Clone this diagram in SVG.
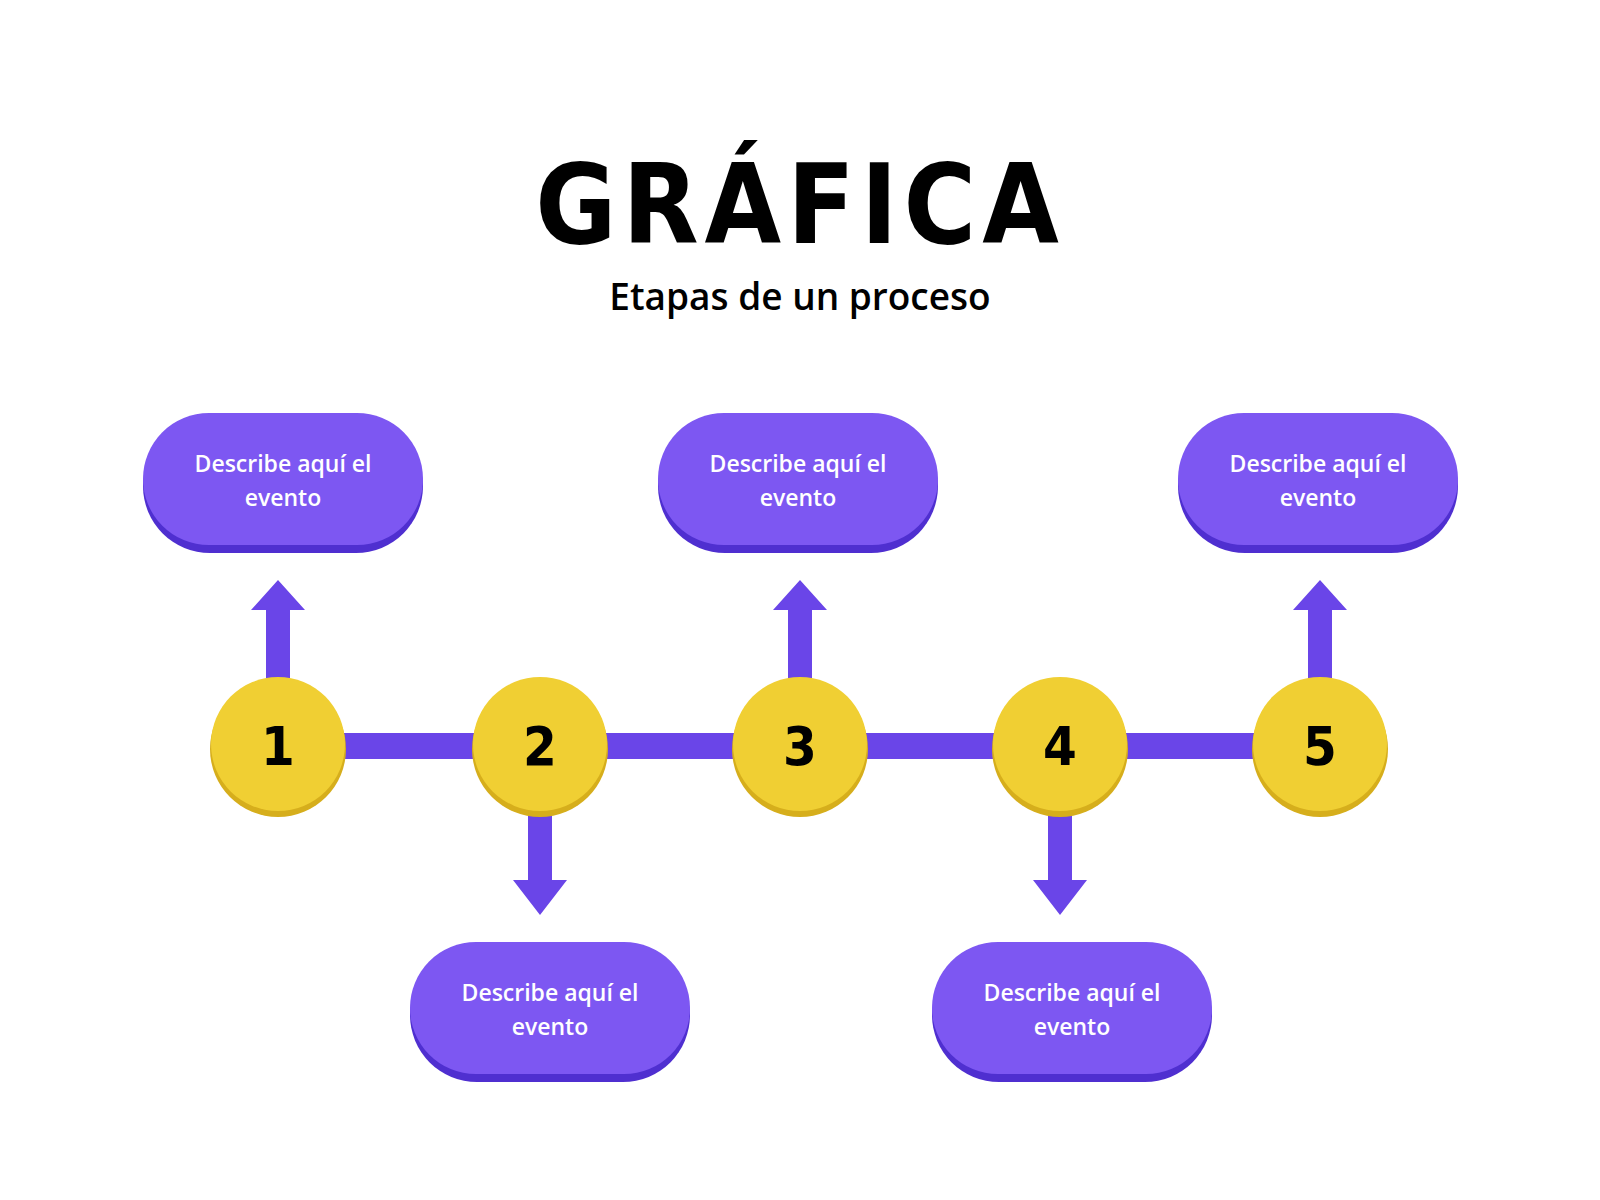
<svg xmlns="http://www.w3.org/2000/svg" width="1600" height="1200" viewBox="0 0 1600 1200">
<defs>
<style>
.pb{fill:#4f2fd0}.pt{fill:#7d57f2}
.cb{fill:#d6ae1c}.ct{fill:#f0cf33}
.bar{fill:#6a45e8}
.lbl{font-family:"Open Sans","Liberation Sans",sans-serif;font-weight:600;font-size:23px;fill:#fff;text-anchor:middle}
.num{font-family:"DejaVu Sans Condensed","DejaVu Sans",sans-serif;font-weight:bold;font-size:54px;fill:#000;text-anchor:middle}
</style>
</defs>
<rect width="1600" height="1200" fill="#fff"/>
<text x="800" y="243" text-anchor="middle" font-family="DejaVu Sans Condensed,DejaVu Sans,sans-serif" font-weight="bold" font-size="110" letter-spacing="6">GRÁFICA</text>
<text x="800" y="310" text-anchor="middle" font-family="Open Sans,Liberation Sans,sans-serif" font-weight="600" font-size="37">Etapas de un proceso</text>
<g id="connectors">
<rect class="bar" x="278" y="733" width="1042" height="26"/>
<path class="bar" d="M266 680V610H251L278 580L305 610H290V680Z"/>
<path class="bar" d="M788 680V610H773L800 580L827 610H812V680Z"/>
<path class="bar" d="M1308 680V610H1293L1320 580L1347 610H1332V680Z"/>
<path class="bar" d="M528 810V880H513L540 915L567 880H552V810Z"/>
<path class="bar" d="M1048 810V880H1033L1060 915L1087 880H1072V810Z"/>
</g>
<g id="n1"><rect class="pb" x="143" y="419" width="280" height="134" rx="67"/><rect class="pt" x="143" y="413" width="280" height="132" rx="66"/><text class="lbl" x="283" y="472">Describe aquí el</text><text class="lbl" x="283" y="506">evento</text></g>
<g id="n3"><rect class="pb" x="658" y="419" width="280" height="134" rx="67"/><rect class="pt" x="658" y="413" width="280" height="132" rx="66"/><text class="lbl" x="798" y="472">Describe aquí el</text><text class="lbl" x="798" y="506">evento</text></g>
<g id="n5"><rect class="pb" x="1178" y="419" width="280" height="134" rx="67"/><rect class="pt" x="1178" y="413" width="280" height="132" rx="66"/><text class="lbl" x="1318" y="472">Describe aquí el</text><text class="lbl" x="1318" y="506">evento</text></g>
<g id="n2"><rect class="pb" x="410" y="948" width="280" height="134" rx="67"/><rect class="pt" x="410" y="942" width="280" height="132" rx="66"/><text class="lbl" x="550" y="1001">Describe aquí el</text><text class="lbl" x="550" y="1035">evento</text></g>
<g id="n4"><rect class="pb" x="932" y="948" width="280" height="134" rx="67"/><rect class="pt" x="932" y="942" width="280" height="132" rx="66"/><text class="lbl" x="1072" y="1001">Describe aquí el</text><text class="lbl" x="1072" y="1035">evento</text></g>
<g id="c1"><circle class="cb" cx="278" cy="749" r="68"/><circle class="ct" cx="278" cy="744" r="67"/><text class="num" x="278" y="765">1</text></g>
<g id="c2"><circle class="cb" cx="540" cy="749" r="68"/><circle class="ct" cx="540" cy="744" r="67"/><text class="num" x="540" y="765">2</text></g>
<g id="c3"><circle class="cb" cx="800" cy="749" r="68"/><circle class="ct" cx="800" cy="744" r="67"/><text class="num" x="800" y="765">3</text></g>
<g id="c4"><circle class="cb" cx="1060" cy="749" r="68"/><circle class="ct" cx="1060" cy="744" r="67"/><text class="num" x="1060" y="765">4</text></g>
<g id="c5"><circle class="cb" cx="1320" cy="749" r="68"/><circle class="ct" cx="1320" cy="744" r="67"/><text class="num" x="1320" y="765">5</text></g>
</svg>
